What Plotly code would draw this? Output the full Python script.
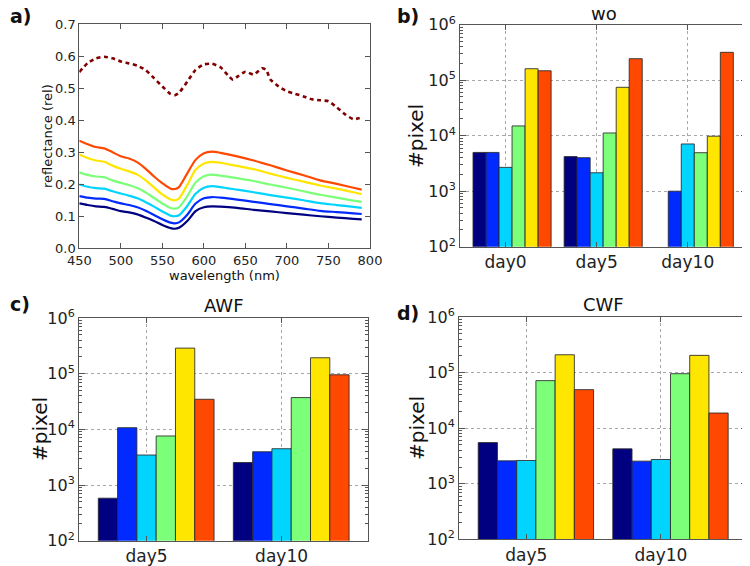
import plotly.graph_objects as go

# ---------------- data ----------------
jet_colors = ["#000080", "#002aff", "#00d4ff", "#7cff79", "#ffe600", "#ff4800"]
dark_red = "#800000"

wl = [450, 460, 470, 480, 490, 500, 510, 520, 530, 540, 550, 560, 565, 570, 580,
      590, 600, 610, 620, 640, 660, 680, 700, 720, 740, 760, 780, 790]
refl_navy = [.140, .135, .131, .129, .123, .116, .112, .106, .096, .085, .073, .063, .061, .064, .085,
             .116, .128, .131, .130, .126, .120, .115, .110, .105, .100, .096, .092, .090]
refl_blue = [.163, .158, .155, .154, .147, .140, .135, .128, .117, .104, .091, .080, .078, .081, .105,
             .140, .156, .160, .158, .152, .145, .138, .131, .124, .117, .113, .109, .107]
refl_cyan = [.199, .192, .188, .186, .178, .171, .164, .156, .144, .130, .115, .102, .100, .103, .132,
             .170, .189, .194, .191, .183, .175, .166, .158, .150, .141, .135, .129, .126]
refl_green = [.237, .229, .224, .222, .212, .204, .197, .188, .174, .157, .140, .126, .124, .128, .163,
              .205, .225, .230, .227, .219, .210, .199, .189, .178, .167, .158, .149, .145]
refl_yellow = [.293, .282, .274, .270, .258, .248, .240, .230, .212, .190, .168, .152, .150, .155, .198,
               .245, .265, .270, .267, .257, .247, .233, .220, .208, .196, .186, .175, .169]
refl_orange = [.336, .325, .316, .312, .300, .287, .280, .268, .248, .224, .203, .186, .185, .191, .234,
               .276, .297, .302, .298, .287, .274, .259, .243, .228, .212, .201, .189, .183]
refl_lines = [refl_navy, refl_blue, refl_cyan, refl_green, refl_yellow, refl_orange]

wl_dot = [450, 460, 470, 480, 490, 500, 510, 520, 530, 540, 550, 560, 565, 570, 580, 590, 600, 610,
          620, 630, 635, 640, 650, 660, 670, 675, 680, 690, 700, 710, 720, 730, 740, 750, 760, 770,
          780, 790]
refl_dot = [.550, .578, .593, .598, .593, .583, .577, .570, .556, .531, .505, .481, .478, .485, .520,
            .557, .574, .576, .565, .537, .526, .535, .551, .542, .562, .557, .527, .505, .490, .482,
            .474, .465, .462, .459, .440, .418, .403, .408]

days_wo = ["day0", "day5", "day10"]
wo_vals = [  # one list per colour class, across days
    [5000, 4200, None],
    [5000, 4020, 1000],
    [2690, 2150, 7100],
    [15000, 11200, 4940],
    [161000, 74500, 9800],
    [148000, 244000, 318000],
]
days_wf = ["day5", "day10"]
awf_vals = [
    [580, 2540],
    [10700, 3960],
    [3460, 4490],
    [7600, 37200],
    [288000, 193000],
    [34700, 95500],
]
cwf_vals = [
    [5500, 4240],
    [2580, 2550],
    [2620, 2730],
    [71600, 95500],
    [209000, 204000],
    [49300, 18700],
]

log_tickvals = [1e2, 1e3, 1e4, 1e5, 1e6]
log_ticktext = ["10<sup>2</sup>", "10<sup>3</sup>", "10<sup>4</sup>", "10<sup>5</sup>", "10<sup>6</sup>"]

# ---------------- figure ----------------
W, H = 750, 566
OFF = 8  # page body margin offset of the rendered figure
FONT = "DejaVu Sans"
frame = "#555555"


def px_x(p):
    return (p - OFF) / W


def px_y(p):
    return 1 - (p - OFF) / H


fig = go.Figure()

# panel a
for i, vals in enumerate(refl_lines):
    fig.add_trace(go.Scatter(x=wl, y=vals, mode="lines",
                             line=dict(color=jet_colors[i], width=2.2, shape="spline", smoothing=0.7),
                             xaxis="x", yaxis="y", showlegend=False))
fig.add_trace(go.Scatter(x=wl_dot, y=refl_dot, mode="lines",
                         line=dict(color=dark_red, width=2.6, dash="4px,3.5px", shape="spline", smoothing=0.5),
                         xaxis="x", yaxis="y", showlegend=False))

bar_w = 1 / 7
panels = [("x2", "y2", days_wo, wo_vals), ("x3", "y3", days_wf, awf_vals), ("x4", "y4", days_wf, cwf_vals)]
for xa, ya, days, vals in panels:
    for i, series in enumerate(vals):
        fig.add_trace(go.Bar(x=days, y=series, width=bar_w, offset=(i - 2.5) * bar_w,
                             marker=dict(color=jet_colors[i], line=dict(color="rgba(40,40,40,0.85)", width=1)),
                             xaxis=xa, yaxis=ya, showlegend=False))

dom = {
    "a": ([79.3, 370], [24, 248.3]),
    "b": ([460, 747], [24.7, 246.7]),
    "c": ([79, 368], [318, 540.7]),
    "d": ([459, 747], [317, 539.3]),
}


def xdom(k):
    a, b = dom[k][0]
    return [px_x(a), px_x(b)]


def ydom(k):
    a, b = dom[k][1]
    return [px_y(b), px_y(a)]


def axis_base(size):
    return dict(showline=True, linecolor=frame, linewidth=1, mirror="allticks", ticks="inside",
                tickcolor=frame, zeroline=False, automargin=False,
                tickfont=dict(family=FONT, size=size, color="#222"))


minor_vals = [m * 10 ** e for e in range(2, 6) for m in range(2, 10)]

layout = dict(
    width=W, height=H, margin=dict(l=0, r=0, t=0, b=0, autoexpand=False),
    paper_bgcolor="white", plot_bgcolor="white", barmode="overlay",
    font=dict(family=FONT, color="#222"),
    xaxis=dict(domain=xdom("a"), range=[450, 800], tickvals=[450, 500, 550, 600, 650, 700, 750, 800],
               ticklen=5, showgrid=False, anchor="y", **axis_base(13)),
    yaxis=dict(domain=ydom("a"), range=[0, 0.7], tickvals=[0, .1, .2, .3, .4, .5, .6, .7], tickformat=".1f",
               ticklen=5, showgrid=False, anchor="x", **axis_base(13)),
)

grid = dict(showgrid=True, gridcolor="#a8a8a8", griddash="dot", gridwidth=1, layer="above traces")
xranges = {"b": [-0.5, 2.65], "c": [-0.5, 1.64], "d": [-0.5, 1.64]}
for n, k in zip([2, 3, 4], ["b", "c", "d"]):
    layout[f"xaxis{n}"] = dict(domain=xdom(k), type="category", range=xranges[k], ticklen=5, anchor=f"y{n}",
                               **grid, **axis_base(17))
    layout[f"yaxis{n}"] = dict(domain=ydom(k), type="log", range=[2, 6], tickvals=log_tickvals, ticktext=log_ticktext,
                               ticklen=6, anchor=f"x{n}",
                               minor=dict(tickvals=minor_vals, ticks="inside", ticklen=3, tickcolor=frame, showgrid=False),
                               **grid, **axis_base(16))

fig.update_layout(**layout)

ann = []


def add_text(text, x, y, size, bold=False, angle=0, xanchor="center"):
    ann.append(dict(text=f"<b>{text}</b>" if bold else text, x=px_x(x), y=px_y(y), xref="paper", yref="paper",
                    showarrow=False, xanchor=xanchor, yanchor="middle", textangle=angle,
                    font=dict(family=FONT, size=size, color="#111")))


# panel letters
add_text("a)", 8, 16, 19, bold=True, xanchor="left")
add_text("b)", 408, 16, 19, bold=True)
add_text("c)", 8, 304, 19, bold=True, xanchor="left")
add_text("d)", 408, 313, 19, bold=True)
# titles
add_text("wo", 603.5, 14, 18)
add_text("AWF", 223.5, 305, 18)
add_text("CWF", 603, 304, 18)
# axis titles
add_text("wavelength (nm)", 224.7, 275, 13)
add_text("reflectance (rel)", 47, 136, 13, angle=-90)
add_text("#pixel", 416, 136, 20, angle=-90)
add_text("#pixel", 40, 429, 20, angle=-90)
add_text("#pixel", 417, 428, 20, angle=-90)

fig.update_layout(annotations=ann)
fig.write_html("out.html")
